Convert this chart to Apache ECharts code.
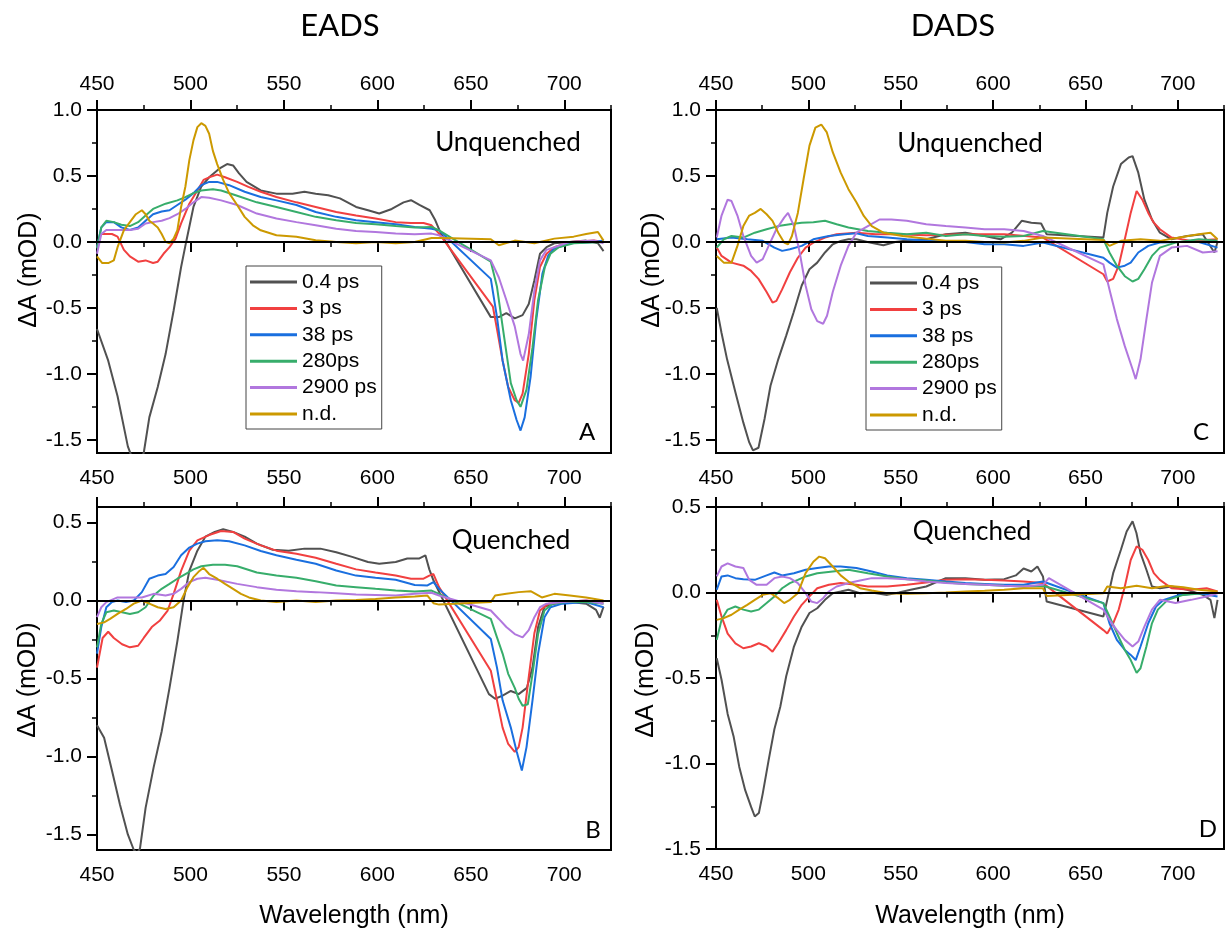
<!DOCTYPE html>
<html>
<head>
<meta charset="utf-8">
<script src="https://cdn.jsdelivr.net/npm/echarts@6.0.0/dist/echarts.min.js"></script>
<style>
  html, body { margin: 0; padding: 0; background: #fff; }
  #chart { width: 1228px; height: 932px; }
</style>
</head>
<body>
<div id="chart"></div>
<script>
// Component names and tick values
const names = ['0.4 ps', '3 ps', '38 ps', '280ps', '2900 ps', 'n.d.'];
const xMajor = [450, 500, 550, 600, 650, 700];
const xMinor = [475, 525, 575, 625, 675, 725];
const yMajorUnq = [-1.5, -1.0, -0.5, 0.0, 0.5, 1.0];
const yMinorUnq = [-1.25, -0.75, -0.25, 0.25, 0.75];
const yMajorQ = [-1.5, -1.0, -0.5, 0.0, 0.5];
const yMinorQ = [-1.25, -0.75, -0.25, 0.25];

// EADS, unquenched  [wavelength nm, dA mOD]
const eadsU_04 = [[450,-0.66],[456,-0.9],[461,-1.17],[466.5,-1.55],[471,-1.72],[475,-1.6],[478,-1.33],[482.5,-1.1],[486.7,-0.85],[491,-0.52],[495,-0.19],[497.7,0],[501.6,0.265],[505.8,0.42],[510,0.49],[515.4,0.555],[519.6,0.59],[522.8,0.58],[526,0.52],[530,0.455],[537.6,0.39],[546,0.366],[554.6,0.366],[561,0.38],[567,0.366],[573.7,0.354],[580,0.33],[588.6,0.265],[595,0.24],[601,0.215],[607.7,0.25],[614,0.3],[618,0.316],[622.5,0.28],[628,0.24],[631,0.164],[634,0.063],[660.7,-0.57],[665,-0.57],[669,-0.54],[673.5,-0.58],[677.7,-0.555],[681,-0.47],[684,-0.29],[687,-0.09],[690.5,-0.04],[694.7,-0.01],[703,0],[711.7,0.01],[718,-0.01],[721,-0.07]];
const eadsU_3 = [[450,-0.04],[452,0.06],[455,0.06],[458,0.06],[461,0.04],[464.4,-0.06],[467.6,-0.11],[472,-0.15],[476,-0.14],[480,-0.16],[482.5,-0.15],[485.6,-0.09],[488.8,-0.04],[492,0.025],[495,0.14],[499.4,0.29],[503.7,0.39],[507,0.47],[510,0.49],[514.3,0.51],[518.5,0.49],[525,0.455],[531,0.417],[537.6,0.38],[546,0.34],[556.7,0.3],[567,0.265],[578,0.227],[588.6,0.2],[599,0.177],[609.8,0.15],[618,0.144],[624.7,0.144],[629,0.126],[633,0.063],[661.8,-0.49],[664,-0.66],[667,-0.9],[670,-1.1],[673.5,-1.2],[675.6,-1.22],[677.7,-1.15],[681,-0.85],[684,-0.44],[687,-0.19],[690.5,-0.09],[694.7,-0.04],[703,0],[716,0.01],[721,0]];
const eadsU_38 = [[450,-0.04],[452.3,0.11],[455,0.15],[459,0.15],[463,0.11],[467.6,0.09],[472,0.11],[476,0.16],[480,0.21],[484.6,0.23],[488.8,0.24],[493,0.28],[497.3,0.32],[501.6,0.37],[505.8,0.43],[510,0.455],[514.3,0.455],[520.7,0.43],[529,0.38],[537.6,0.34],[546,0.315],[556.7,0.28],[567,0.227],[578,0.19],[588.6,0.164],[599,0.15],[609.8,0.134],[620,0.114],[629,0.1],[633,0.088],[660.7,-0.28],[664,-0.57],[667,-0.9],[671.4,-1.2],[674.5,-1.35],[676.6,-1.43],[678.8,-1.33],[682,-1.02],[685,-0.59],[688.3,-0.24],[691.5,-0.1],[694.7,-0.05],[703,-0.01],[716,0],[721,0.01]];
const eadsU_280 = [[450,-0.05],[452.3,0.11],[455,0.16],[459,0.15],[463,0.13],[467.6,0.12],[472,0.15],[476,0.2],[480,0.25],[486.7,0.29],[493,0.315],[497.3,0.34],[501.6,0.37],[505.8,0.39],[512,0.4],[516.4,0.39],[525,0.35],[535.5,0.3],[546,0.265],[556.7,0.227],[567,0.19],[578,0.164],[588.6,0.144],[599,0.134],[609.8,0.12],[620,0.11],[629,0.114],[633,0.088],[660.7,-0.15],[664,-0.34],[667,-0.64],[671.4,-1.07],[674.5,-1.2],[676.6,-1.25],[679.8,-1.12],[683,-0.8],[686,-0.44],[689.6,-0.19],[692.6,-0.09],[697,-0.04],[705,-0.01],[721,0]];
const eadsU_2900 = [[450,-0.09],[452.3,0.06],[455,0.09],[461,0.09],[467.6,0.09],[472,0.1],[476,0.14],[480,0.15],[484.6,0.16],[488.8,0.18],[493,0.21],[497.3,0.25],[501.6,0.3],[505.8,0.34],[510,0.335],[516.4,0.315],[525,0.28],[535.5,0.215],[546,0.177],[556.7,0.15],[567,0.126],[578,0.1],[588.6,0.083],[599,0.076],[609.8,0.063],[620,0.058],[629,0.063],[633,0.05],[660.7,-0.14],[665,-0.27],[669,-0.44],[673.5,-0.64],[676.6,-0.85],[678,-0.9],[681,-0.7],[684,-0.37],[687,-0.14],[690.5,-0.06],[694.7,-0.04],[703,0],[716,0.01],[721,-0.01]];
const eadsU_nd = [[450,-0.11],[452.8,-0.16],[456,-0.16],[459,-0.14],[461,-0.04],[464.4,0.09],[467.6,0.15],[470.8,0.21],[474,0.24],[476,0.21],[478,0.16],[480,0.14],[482.5,0.11],[484.6,0.06],[486.7,0],[488.8,-0.01],[491,0.025],[493,0.09],[495,0.265],[497.3,0.42],[499.4,0.62],[501.6,0.77],[503.7,0.87],[505.8,0.9],[508,0.88],[510,0.82],[512,0.69],[514.3,0.59],[517.5,0.47],[520.7,0.37],[525,0.28],[529,0.19],[533.4,0.126],[537.6,0.088],[546,0.05],[556.7,0.04],[567,0.013],[578,0],[588.6,-0.01],[599,0],[609.8,-0.01],[620,0],[629,0.03],[635,0.03],[660.7,0.02],[665,-0.025],[673.5,0.01],[684,-0.01],[694.7,0.025],[705,0.04],[711.7,0.06],[718,0.075],[721,0.01]];

// EADS, quenched
const eadsQ_04 = [[450,-0.8],[453.8,-0.88],[458,-1.09],[462.3,-1.31],[466.5,-1.5],[469.7,-1.6],[471.5,-1.62],[473,-1.59],[476,-1.33],[480.3,-1.07],[484.6,-0.84],[488.8,-0.56],[493,-0.26],[496.3,0],[499.4,0.19],[503.7,0.32],[508,0.41],[513,0.44],[517.5,0.457],[522.8,0.44],[529,0.41],[535.5,0.365],[544,0.326],[552.5,0.32],[561,0.333],[569.5,0.333],[578,0.31],[586.5,0.28],[595,0.247],[601,0.236],[609.8,0.247],[616,0.27],[622.5,0.27],[625.7,0.29],[627.8,0.2],[630,0.13],[659.7,-0.6],[663,-0.63],[667,-0.61],[671.4,-0.58],[675.6,-0.6],[680,-0.56],[683,-0.43],[686,-0.17],[689.4,-0.04],[694.7,-0.02],[703,-0.01],[711.7,-0.02],[717,-0.06],[719,-0.11],[721,-0.04]];
const eadsQ_3 = [[450,-0.43],[453,-0.24],[456,-0.2],[459,-0.24],[463.4,-0.28],[467.6,-0.3],[472,-0.29],[475,-0.24],[479.3,-0.17],[483.5,-0.13],[487.8,-0.064],[491,0.043],[495,0.19],[499.4,0.32],[503.7,0.386],[510,0.42],[516.4,0.446],[522.8,0.44],[529,0.397],[537.6,0.354],[546,0.32],[556.7,0.3],[567,0.275],[578,0.236],[588.6,0.2],[599,0.18],[609.8,0.16],[618,0.14],[624.7,0.14],[627.8,0.16],[630,0.17],[633,0.086],[660.7,-0.45],[664,-0.64],[667,-0.815],[670,-0.92],[673.5,-0.97],[675.6,-0.94],[677.7,-0.815],[681,-0.49],[684,-0.21],[687,-0.064],[691.5,-0.02],[699,-0.01],[711.7,0],[721,-0.01]];
const eadsQ_38 = [[450,-0.34],[452.3,-0.17],[455,-0.043],[458,-0.01],[461,0],[465.5,-0.01],[469.7,0],[474,0.054],[478,0.14],[482.5,0.16],[486.7,0.17],[491,0.215],[495,0.29],[499.4,0.34],[503.7,0.365],[508,0.38],[514.3,0.386],[520.7,0.38],[529,0.354],[537.6,0.318],[546,0.29],[556.7,0.262],[567,0.236],[578,0.193],[588.6,0.16],[599,0.146],[609.8,0.133],[620,0.1],[626.8,0.097],[630,0.118],[633,0.075],[660.7,-0.247],[664,-0.43],[667,-0.64],[671.4,-0.815],[674.5,-0.966],[677.3,-1.09],[679.8,-0.94],[683,-0.64],[686,-0.34],[689.4,-0.107],[692.6,-0.043],[699,-0.02],[711.7,-0.01],[721,-0.043]];
const eadsQ_280 = [[450,-0.3],[452.3,-0.15],[455,-0.075],[459,-0.064],[463.4,-0.075],[467.6,-0.086],[472,-0.075],[476,-0.043],[480.3,0.032],[484.6,0.075],[488.8,0.107],[493,0.14],[497.3,0.17],[501.6,0.2],[505.8,0.22],[512,0.23],[518.5,0.23],[525,0.22],[535.5,0.18],[546,0.16],[556.7,0.146],[567,0.124],[578,0.097],[588.6,0.086],[599,0.075],[609.8,0.064],[620,0.058],[629,0.064],[633,0.043],[660.7,-0.118],[664,-0.236],[667,-0.34],[670,-0.47],[673.5,-0.56],[675.6,-0.63],[677.7,-0.675],[680.5,-0.665],[683,-0.47],[686,-0.215],[689.4,-0.064],[693.6,-0.02],[701,-0.01],[711.7,-0.01],[721,-0.02]];
const eadsQ_2900 = [[450,-0.107],[452.3,-0.043],[455,-0.01],[461,0.02],[467.6,0.02],[474,0.02],[480.3,0.043],[486.7,0.032],[491,0.043],[495,0.075],[499.4,0.118],[503.7,0.14],[508,0.146],[514.3,0.133],[525,0.107],[535.5,0.086],[546,0.069],[556.7,0.06],[567,0.054],[578,0.047],[588.6,0.039],[599,0.036],[609.8,0.032],[620,0.043],[629,0.05],[633,0.032],[660.7,-0.064],[665,-0.118],[669,-0.17],[673.5,-0.215],[677.7,-0.236],[681,-0.19],[684,-0.107],[687,-0.043],[690.5,-0.02],[699,-0.01],[711.7,0],[721,-0.02]];
const eadsQ_nd = [[450,-0.15],[453.8,-0.14],[457,-0.118],[461,-0.086],[465.5,-0.054],[469.7,-0.02],[474,0],[478,-0.02],[482.5,-0.043],[486.7,-0.054],[491,-0.043],[495,0],[498.4,0.086],[501.6,0.15],[504.8,0.19],[507,0.21],[510,0.17],[514.3,0.14],[518.5,0.107],[522.8,0.075],[527,0.043],[531.3,0.02],[537.6,0],[546,-0.01],[556.7,0],[567,-0.01],[578,0],[588.6,0.004],[599,0.01],[609.8,0.02],[620,0.026],[626.8,0.032],[630,-0.017],[633,-0.026],[660.7,-0.01],[663,0.032],[669,0.043],[675.6,0.054],[682,0.06],[688,0.02],[694.7,0.043],[703,0.032],[711.7,0.02],[721,0]];

// DADS, unquenched
const dadsU_04 = [[450.4,-0.5],[453,-0.69],[456,-0.89],[460.5,-1.14],[464.8,-1.37],[468,-1.52],[470,-1.58],[473,-1.56],[476.3,-1.34],[479.5,-1.09],[483.7,-0.89],[488,-0.71],[492,-0.535],[496.4,-0.33],[500.6,-0.207],[504.8,-0.157],[509,-0.08],[513.2,-0.018],[517.5,0.008],[521.7,0.02],[526,0.02],[532,0],[540.6,-0.025],[547,0],[555.4,0.015],[563.8,0.02],[574.4,0.058],[585,0.07],[595.4,0.045],[604,0.02],[610.2,0.07],[615.5,0.16],[620.7,0.146],[626,0.14],[629,0.058],[659.7,0.033],[661.8,0.22],[665,0.42],[669.2,0.59],[673.4,0.64],[675.5,0.65],[678.6,0.525],[681.9,0.32],[686,0.17],[690.3,0.07],[696.6,0.02],[705,0.045],[713.5,0.058],[719.8,-0.08],[721.5,0]];
const dadsU_3 = [[450.4,-0.043],[453,-0.106],[458.4,-0.157],[464.8,-0.18],[469,-0.22],[473,-0.28],[477.4,-0.38],[480.6,-0.46],[482.7,-0.447],[485.8,-0.36],[490,-0.23],[494.3,-0.12],[498.5,-0.043],[502.7,-0.005],[509,0.033],[515.3,0.058],[526,0.07],[536.4,0.058],[547,0.058],[563.8,0.05],[585,0.058],[606,0.058],[627,0.033],[659.7,-0.245],[661.8,-0.3],[665,-0.28],[668,-0.18],[671.3,0.02],[674.5,0.22],[677.7,0.386],[680.8,0.32],[684,0.22],[687,0.146],[690.3,0.096],[696.6,0.033],[707.2,0.008],[721.5,0.02]];
const dadsU_38 = [[450.4,0.02],[458.4,0.033],[467,0.02],[475.3,0.008],[481.6,-0.043],[485.8,-0.068],[490,-0.055],[496.4,-0.03],[502.7,0.02],[511.1,0.045],[519.6,0.058],[526,0.065],[532.2,0.045],[542.7,0.033],[553.3,0.02],[563.8,0.008],[585,0],[595.4,-0.018],[606,-0.018],[616.5,-0.03],[627,-0.005],[659.7,-0.12],[663,-0.157],[667,-0.195],[671.3,-0.18],[674.5,-0.157],[678.6,-0.08],[684,-0.03],[690.3,-0.005],[700.8,0],[711.4,0],[721.5,-0.043]];
const dadsU_280 = [[450.4,-0.043],[454.2,0.02],[458.4,0.045],[464.8,0.033],[471,0.07],[477.4,0.096],[483.7,0.12],[490,0.134],[496.4,0.146],[502.7,0.15],[509,0.16],[515.3,0.134],[521.7,0.11],[532.2,0.083],[542.7,0.07],[553.3,0.058],[563.8,0.07],[574.4,0.045],[585,0.058],[595.4,0.045],[606,0.04],[616.5,0.045],[627,0.083],[659.7,0.02],[663,-0.08],[667,-0.18],[671.3,-0.26],[675.5,-0.3],[678.6,-0.28],[681.9,-0.207],[686,-0.106],[690.3,-0.043],[698.7,-0.005],[711.4,0.02],[721.5,0.008]];
const dadsU_2900 = [[450.4,0.033],[453,0.2],[456.3,0.32],[458.4,0.31],[461.6,0.2],[464.8,0.045],[469,-0.106],[472,-0.157],[475.3,-0.13],[478.5,-0.03],[482.7,0.096],[486.9,0.184],[489,0.22],[492.2,0.12],[495.3,-0.08],[498.5,-0.33],[501.6,-0.51],[504.8,-0.6],[508,-0.62],[510.1,-0.56],[513.2,-0.38],[517.5,-0.18],[521.7,-0.03],[526,0.07],[532.2,0.12],[538.5,0.17],[544.9,0.17],[553.3,0.16],[563.8,0.134],[574.4,0.12],[585,0.11],[595.4,0.096],[606,0.096],[616.5,0.083],[627,0.045],[659.7,-0.17],[663,-0.36],[667,-0.585],[671.3,-0.79],[675.5,-0.965],[677.2,-1.04],[679.8,-0.89],[683,-0.585],[686,-0.31],[690.3,-0.106],[696.6,-0.043],[705,-0.03],[713.5,-0.08],[721.5,-0.07]];
const dadsU_nd = [[450.4,-0.106],[454.2,-0.157],[458.4,-0.157],[461.6,-0.03],[464.8,0.12],[468,0.2],[471,0.22],[474.2,0.25],[477.4,0.21],[480.6,0.16],[483.7,0.07],[486.9,-0.005],[489,-0.018],[491.1,0.045],[494.3,0.22],[497.4,0.475],[500.6,0.73],[503.8,0.866],[507,0.89],[510,0.83],[513.2,0.68],[517.5,0.525],[521.7,0.4],[526,0.3],[530,0.197],[534.3,0.12],[540.6,0.07],[551,0.045],[563.8,0.025],[574.4,0.008],[585,0.008],[595.4,0],[606,-0.005],[616.5,0.008],[627,0.033],[659.7,0.015],[663,-0.03],[669.2,0.008],[679.8,0.02],[690.3,0.008],[700.8,0.033],[711.4,0.058],[717.7,0.07],[721.5,0.02]];

// DADS, quenched
const dadsQ_04 = [[450.4,-0.385],[453,-0.51],[456.3,-0.71],[459.5,-0.84],[462.6,-1.02],[465.8,-1.156],[469,-1.254],[471,-1.31],[473.2,-1.29],[475.3,-1.176],[478.5,-0.98],[481.6,-0.8],[484.8,-0.668],[488,-0.49],[492.2,-0.316],[496.4,-0.2],[500.6,-0.12],[504.8,-0.092],[509,-0.043],[513.2,-0.004],[517.5,0.006],[521.7,0.016],[528,-0.004],[534.3,0],[542.7,-0.014],[549,0],[555.4,0.016],[563.8,0.035],[574.4,0.084],[585,0.084],[595.4,0.074],[606,0.078],[612.3,0.1],[616.5,0.14],[620.7,0.123],[624,0.152],[627,0.094],[629,-0.053],[659.7,-0.14],[661.8,-0.043],[665,0.113],[669.2,0.25],[672.3,0.357],[675.5,0.416],[677.6,0.348],[679.8,0.23],[683,0.133],[686,0.035],[690.3,0.025],[696.6,0.035],[705,0.016],[713.5,-0.014],[717.7,-0.043],[719.8,-0.15],[721.5,-0.043]];
const dadsQ_3 = [[450.4,-0.043],[453,-0.14],[456.3,-0.24],[460.5,-0.297],[464.8,-0.326],[469,-0.316],[473.2,-0.297],[477.4,-0.316],[480.6,-0.346],[483.7,-0.297],[488,-0.22],[492.2,-0.14],[496.4,-0.072],[500.6,-0.023],[504.8,0.025],[511.1,0.045],[517.5,0.055],[526,0.045],[532.2,0.035],[542.7,0.035],[553.3,0.045],[563.8,0.058],[574.4,0.074],[585,0.078],[595.4,0.074],[606,0.07],[616.5,0.064],[627,0.055],[659.7,-0.22],[661.8,-0.24],[665,-0.18],[668,-0.1],[671.3,0.035],[674.5,0.19],[677.7,0.27],[680.8,0.25],[684,0.19],[687,0.113],[690.3,0.074],[696.6,0.025],[707.2,0.016],[715.6,0.025],[721.5,0.006]];
const dadsQ_38 = [[450.4,0.016],[453,0.094],[456.3,0.1],[460.5,0.084],[464.8,0.078],[471,0.074],[477.4,0.1],[481.6,0.117],[485.8,0.1],[492.2,0.113],[498.5,0.133],[504.8,0.143],[511.1,0.152],[517.5,0.152],[526,0.143],[534.3,0.123],[542.7,0.1],[553.3,0.084],[563.8,0.074],[574.4,0.064],[585,0.055],[595.4,0.05],[606,0.045],[616.5,0.045],[627,0.064],[659.7,-0.062],[663,-0.18],[667,-0.277],[671.3,-0.336],[674.5,-0.365],[677.2,-0.395],[679.8,-0.316],[684,-0.18],[688.2,-0.082],[692.4,-0.043],[700.8,-0.014],[711.4,-0.004],[721.5,-0.023]];
const dadsQ_280 = [[450.4,-0.277],[453,-0.16],[456.3,-0.1],[460.5,-0.082],[464.8,-0.1],[469,-0.111],[473.2,-0.1],[477.4,-0.062],[481.6,-0.023],[485.8,0.025],[490,0.055],[494.3,0.074],[498.5,0.094],[504.8,0.113],[513.2,0.123],[521.7,0.133],[532.2,0.113],[542.7,0.094],[553.3,0.078],[563.8,0.07],[574.4,0.058],[585,0.05],[595.4,0.045],[606,0.039],[616.5,0.035],[627,0.039],[659.7,-0.062],[663,-0.14],[667,-0.238],[671.3,-0.336],[674.5,-0.395],[677.7,-0.47],[679.8,-0.443],[683,-0.316],[686,-0.18],[689.2,-0.1],[694.5,-0.043],[703,-0.014],[713.5,-0.004],[721.5,0]];
const dadsQ_2900 = [[450.4,0.094],[453,0.152],[456.3,0.17],[460.5,0.152],[464.8,0.143],[468,0.074],[472,0.045],[477.4,0.045],[481.6,0.084],[485.8,0.094],[490,0.084],[494.3,0.055],[498.5,-0.004],[501.6,-0.053],[504.8,-0.062],[508,-0.033],[511.1,0.006],[515.3,0.035],[521.7,0.055],[528,0.07],[534.3,0.084],[542.7,0.084],[553.3,0.078],[563.8,0.064],[574.4,0.055],[585,0.05],[595.4,0.045],[606,0.039],[616.5,0.035],[627,0.045],[630.2,0.084],[659.7,-0.1],[663,-0.16],[667,-0.22],[671.3,-0.277],[675.5,-0.316],[678.6,-0.287],[681.9,-0.2],[686,-0.1],[690.3,-0.043],[698.7,-0.062],[707.2,-0.043],[715.6,-0.023],[721.5,-0.004]];
const dadsQ_nd = [[450.4,-0.16],[454.2,-0.15],[458.4,-0.13],[462.6,-0.1],[466.9,-0.072],[471,-0.043],[475.3,-0.014],[479.5,-0.004],[483.7,-0.033],[486.9,-0.062],[490,-0.043],[494.3,-0.004],[498.5,0.113],[502.7,0.18],[505.9,0.21],[509,0.2],[513.2,0.152],[517.5,0.1],[521.7,0.064],[528,0.025],[534.3,0.012],[542.7,-0.004],[553.3,-0.008],[563.8,-0.004],[574.4,0],[585,0.006],[595.4,0.01],[606,0.016],[616.5,0.025],[627,0.025],[629,-0.02],[659.7,-0.004],[661.8,0.035],[669.2,0.025],[677.7,0.039],[686,0.025],[694.5,0.039],[703,0.031],[711.4,0.016],[721.5,0.006]];

// ---- drawing ----
const colors = ['#515151', '#F14040', '#1A6FDF', '#37AD6B', '#B177DE', '#CC9900'];
const tickFont = 'Liberation Sans, Arial, sans-serif';
const noteFont = 'Lato, "Open Sans", sans-serif';

const panels = [
  { grid: { left: 97, top: 110, width: 514, height: 343 }, yMin: -1.6, yMax: 1.0,
    yMajor: yMajorUnq, yMinor: yMinorUnq, topLabels: true, bottomLabels: true,
    series: [eadsU_04, eadsU_3, eadsU_38, eadsU_280, eadsU_2900, eadsU_nd] },
  { grid: { left: 97, top: 507, width: 514, height: 343 }, yMin: -1.6, yMax: 0.6,
    yMajor: yMajorQ, yMinor: yMinorQ, topLabels: false, bottomLabels: true,
    series: [eadsQ_04, eadsQ_3, eadsQ_38, eadsQ_280, eadsQ_2900, eadsQ_nd] },
  { grid: { left: 716, top: 110, width: 508, height: 343 }, yMin: -1.6, yMax: 1.0,
    yMajor: yMajorUnq, yMinor: yMinorUnq, topLabels: true, bottomLabels: true,
    series: [dadsU_04, dadsU_3, dadsU_38, dadsU_280, dadsU_2900, dadsU_nd] },
  { grid: { left: 716, top: 507, width: 508, height: 342 }, yMin: -1.5, yMax: 0.5,
    yMajor: yMajorQ, yMinor: yMinorQ, topLabels: false, bottomLabels: true,
    series: [dadsQ_04, dadsQ_3, dadsQ_38, dadsQ_280, dadsQ_2900, dadsQ_nd] }
];

const grids = [], xAxes = [], yAxes = [], series = [];
const labelStyle = { fontSize: 21, color: '#000', fontFamily: tickFont };

function xAxis(g, position, values, length, labels) {
  return {
    type: 'value', gridIndex: g, position: position, min: 450, max: 725,
    axisLine: { show: false }, splitLine: { show: false },
    axisTick: { show: true, customValues: values, length: length, lineStyle: { color: '#000', width: length > 6 ? 2 : 1.5 } },
    axisLabel: labels ? Object.assign({ show: true, customValues: values, margin: 15 }, labelStyle) : { show: false }
  };
}
function yAxis(g, p, values, length, labels) {
  return {
    type: 'value', gridIndex: g, position: 'left', min: p.yMin, max: p.yMax,
    axisLine: { show: false }, splitLine: { show: false },
    axisTick: { show: true, customValues: values, length: length, lineStyle: { color: '#000', width: length > 6 ? 2 : 1.5 } },
    axisLabel: labels ? Object.assign({ show: true, customValues: values, margin: 15,
      formatter: v => v.toFixed(1) }, labelStyle) : { show: false }
  };
}

panels.forEach((p, g) => {
  grids.push(Object.assign({ show: true, borderColor: '#000', borderWidth: 2, backgroundColor: 'transparent' }, p.grid));
  xAxes.push(xAxis(g, 'bottom', xMajor, 10, p.bottomLabels));
  xAxes.push(xAxis(g, 'bottom', xMinor, 5, false));
  xAxes.push(xAxis(g, 'top', xMajor, 10, p.topLabels));
  xAxes.push(xAxis(g, 'top', xMinor, 5, false));
  yAxes.push(yAxis(g, p, p.yMajor, 10, true));
  yAxes.push(yAxis(g, p, p.yMinor, 5, false));
  p.series.forEach((data, i) => {
    const s = {
      name: names[i], type: 'line', data: data, xAxisIndex: g * 4, yAxisIndex: g * 2,
      showSymbol: false, symbol: 'none', clip: true, animation: false,
      lineStyle: { width: 2, color: colors[i] }, itemStyle: { color: colors[i] },
      emphasis: { disabled: true }
    };
    if (i === 0) {
      s.markLine = { silent: true, symbol: 'none', animation: false, label: { show: false },
        lineStyle: { color: '#000', width: 2, type: 'solid' }, data: [{ yAxis: 0 }] };
    }
    series.push(s);
  });
});

function legendAt(left, top) {
  return {
    left: left, top: top, orient: 'vertical', data: names, selectedMode: false,
    icon: 'rect', itemWidth: 47, itemHeight: 3, itemGap: 4.4,
    textStyle: { fontSize: 21, lineHeight: 22, color: '#000', fontFamily: tickFont },
    backgroundColor: '#fff', borderColor: '#444', borderWidth: 1, borderRadius: 0,
    padding: [5, 5, 4, 4]
  };
}

function label(text, x, y, size, family, extra) {
  return Object.assign({ type: 'text', x: x, y: y, silent: true,
    style: { text: text, fill: '#000', fontSize: size, fontFamily: family, align: 'center', verticalAlign: 'middle' } }, extra || {});
}

const graphics = [
  label('EADS', 340, 26, 31, noteFont),
  label('DADS', 953, 26, 31, noteFont),
  label('Unquenched', 508, 143, 26, noteFont),
  label('Quenched', 511, 541, 26, noteFont),
  label('Unquenched', 970, 144, 26, noteFont),
  label('Quenched', 972, 532, 26, noteFont),
  label('A', 587, 432, 24, noteFont),
  label('B', 593, 830, 24, noteFont),
  label('C', 1201, 432, 24, noteFont),
  label('D', 1208, 829, 24, noteFont),
  label('\u0394A (mOD)', 29, 270, 25, tickFont, { rotation: Math.PI / 2 }),
  label('\u0394A (mOD)', 28, 680, 25, tickFont, { rotation: Math.PI / 2 }),
  label('\u0394A (mOD)', 652, 270, 25, tickFont, { rotation: Math.PI / 2 }),
  label('\u0394A (mOD)', 646, 680, 25, tickFont, { rotation: Math.PI / 2 }),
  label('Wavelength (nm)', 354, 916, 25, tickFont),
  label('Wavelength (nm)', 970, 916, 25, tickFont)
];

const chart = echarts.init(document.getElementById('chart'), null, { renderer: 'canvas' });
chart.setOption({
  backgroundColor: '#fff',
  animation: false,
  grid: grids,
  xAxis: xAxes,
  yAxis: yAxes,
  legend: [legendAt(246, 266), legendAt(866, 267)],
  graphic: graphics,
  series: series
});
</script>
</body>
</html>
